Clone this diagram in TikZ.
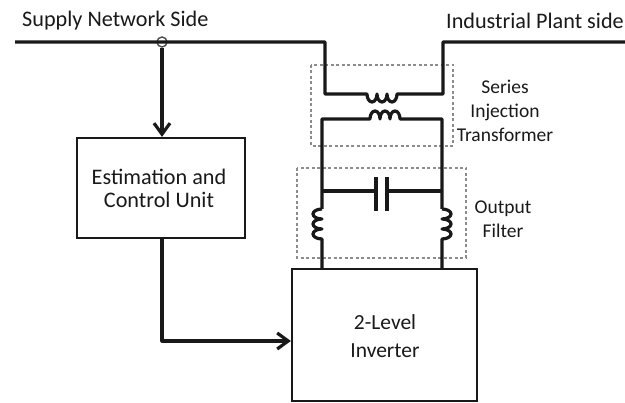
\documentclass[tikz,border=0pt]{standalone}
\usepackage{fontspec}
\setmainfont{Carlito}
\usetikzlibrary{arrows.meta}
\begin{document}
\begin{tikzpicture}

	\tikzstyle{blocks} = [rectangle, draw=black!90, line width=2.2pt, align=center, inner sep=0pt]
	\tikzstyle{labels} = [align=center, inner sep=0pt, text=black!90, font=\fontsize{19.5}{24}\selectfont]
	\tikzstyle{wires} = [draw=black!90, line width=3.2pt, line join=round]
	\tikzstyle{links} = [wires, -{Straight Barb[length=11pt,width=16pt,line width=3.2pt]}]
	\tikzstyle{groups} = [draw=black!45, line width=1.2pt, dash pattern=on 3pt off 2.5pt]
	\tikzstyle{tap} = [circle, draw=black!70, line width=1.4pt, inner sep=0pt, minimum size=10pt]

	\useasboundingbox (0,0) rectangle (625pt,-403pt);

	% dashed groups
	\draw[groups] (311pt,-65pt) rectangle (453pt,-146pt);
	\draw[groups] (297pt,-168pt) rectangle (466pt,-258pt);

	% blocks
	\node[blocks, minimum width=168pt, minimum height=100pt] at (161pt,-188pt) (control) {};
	\node[blocks, minimum width=185pt, minimum height=132pt] at (384.5pt,-335pt) (inverter) {};

	\node[labels, font=\fontsize{22.2}{23}\selectfont] at (159pt,-188pt) (controltext) {Estimation and\\Control Unit};
	\node[labels, font=\fontsize{21.5}{28}\selectfont] at (385pt,-336pt) (invertertext) {2-Level\\Inverter};

	\node[labels, font=\fontsize{22.2}{24}\selectfont, anchor=west] at (22pt,-21pt) (supplytext) {Supply Network Side};
	\node[labels, font=\fontsize{22.2}{24}\selectfont, anchor=east] at (624pt,-21pt) (planttext) {Industrial Plant side};
	\node[labels] at (505pt,-111pt) (transformertext) {Series\\Injection\\Transformer};
	\node[labels] at (503pt,-219pt) (filtertext) {Output\\Filter};

	\coordinate (supply) at (15pt,-42pt);
	\coordinate (plant) at (625pt,-42pt);
	\node[tap] at (162pt,-42pt) (sense) {};

	\coordinate (primaryleft) at (325pt,-94pt);
	\coordinate (primaryright) at (443pt,-94pt);
	\coordinate (primaryin) at (367pt,-94pt);
	\coordinate (primaryout) at (397pt,-94pt);

	\coordinate (secondaryleft) at (322pt,-119pt);
	\coordinate (secondaryright) at (442pt,-119pt);
	\coordinate (secondaryin) at (370pt,-119pt);
	\coordinate (secondaryout) at (400pt,-119pt);

	\coordinate (capleft) at (322pt,-191pt);
	\coordinate (capright) at (442pt,-191pt);
	\coordinate (platea) at (376pt,-191pt);
	\coordinate (plateb) at (387pt,-191pt);

	\coordinate (coilatop) at (322pt,-209pt);
	\coordinate (coilabottom) at (322pt,-239pt);
	\coordinate (coilbtop) at (442pt,-209pt);
	\coordinate (coilbbottom) at (442pt,-239pt);

	\coordinate (invleft) at (322pt,-269pt);
	\coordinate (invright) at (442pt,-269pt);
	\coordinate (bend) at (162pt,-341pt);

	% primary
	\draw[wires] (supply) -| (primaryleft) -- (primaryin) \foreach \i in {1,2,3} {arc (180:360:5pt and 8pt)} -- (primaryright) |- (plant);
	% secondary
	\draw[wires] (coilatop) -- (secondaryleft) -- (secondaryin) \foreach \i in {1,2,3} {arc (180:0:5pt and 8pt)} -- (secondaryright) -- (coilbtop);

	% capacitor
	\draw[wires] (capleft) -- (platea);
	\draw[wires] (plateb) -- (capright);
	\draw[wires] ([yshift=14pt]platea) -- ([yshift=-20pt]platea);
	\draw[wires] ([yshift=14pt]plateb) -- ([yshift=-20pt]plateb);

	% filter coils
	\draw[wires] (coilatop) \foreach \i in {1,2,3} {arc (90:270:9pt and 5pt)} -- (invleft);
	\draw[wires] (coilbtop) \foreach \i in {1,2,3} {arc (90:-90:9pt and 5pt)} -- (invright);

	% control path
	\draw[links] (sense) -- (sense |- control.north);
	\draw[links] (control.south -| bend) -- (bend) -- (bend -| inverter.west);

\end{tikzpicture}
\end{document}
